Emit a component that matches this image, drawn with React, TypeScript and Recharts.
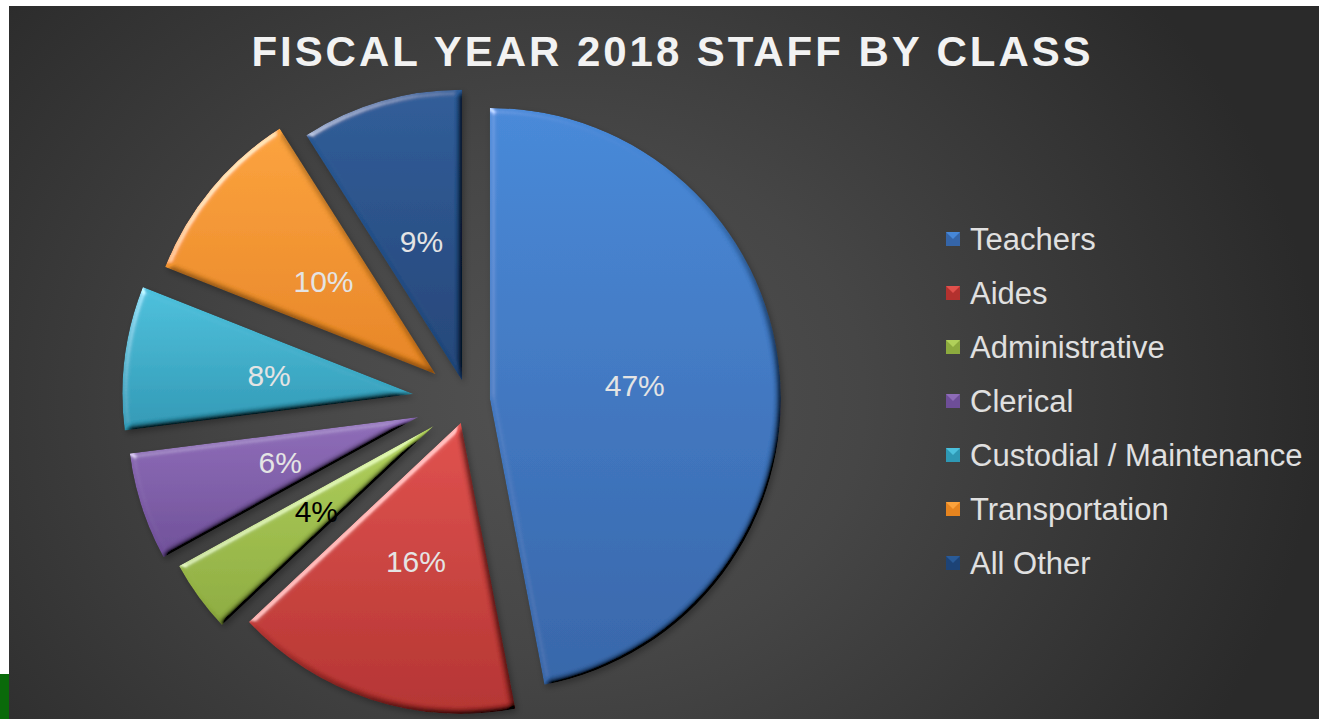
import { Cell, Legend, Pie, PieChart } from "recharts"

const categories = [
  "Teachers",
  "Aides",
  "Administrative",
  "Clerical",
  "Custodial / Maintenance",
  "Transportation",
  "All Other",
]

const shares = [47, 16, 4, 6, 8, 10, 9]

const data = categories.map((name, i) => ({ name, value: shares[i] }))

// styling per slice
const topColors = ["#4688d8", "#e0504c", "#b0d05a", "#8e6cb8", "#4cc0dc", "#fba23c", "#2a5b98"]
const bottomColors = ["#3565a8", "#b3312e", "#8caa3e", "#6e4e98", "#2e98b4", "#e6841f", "#1d4376"]
const labelColors = ["#e4e4e4", "#e4e4e4", "#000000", "#e4e4e4", "#e4e4e4", "#e4e4e4", "#e4e4e4"]
const explode = [22, 23, 42, 52, 55, 42, 21]

const RAD = Math.PI / 180
const total = shares.reduce((a, b) => a + b, 0)

function sliceOffset(i: number) {
  const before = shares.slice(0, i).reduce((a, b) => a + b, 0)
  const mid = 90 - (360 * (before + shares[i] / 2)) / total
  return [explode[i] * Math.cos(mid * RAD), -explode[i] * Math.sin(mid * RAD)]
}

const renderLabel = (props: any) => {
  const { cx, cy, midAngle, outerRadius, index, percent } = props
  const r = outerRadius * 0.5 + explode[index]
  const x = cx + r * Math.cos(-midAngle * RAD)
  const y = cy + r * Math.sin(-midAngle * RAD)
  return (
    <text
      x={x}
      y={y}
      fill={labelColors[index]}
      textAnchor="middle"
      dominantBaseline="central"
      fontSize={30}
      fontFamily="'Liberation Sans', Arial, sans-serif"
    >
      {`${Math.round(percent * 100)}%`}
    </text>
  )
}

// legend keeps the data order (the default payload gets sorted by name)
const renderLegend = () => (
  <div style={{ display: "flex", flexDirection: "column" }}>
    {categories.map((name, i) => (
      <div key={name} style={{ height: 54, display: "flex", alignItems: "center" }}>
        <svg width={14} height={14} style={{ marginRight: 10 }}>
          <rect x={0} y={0} width={14} height={14} fill={bottomColors[i]} />
          <polygon points="0,0 14,0 7,7" fill={topColors[i]} />
          <polygon points="1,1 13,1 7,6" fill={topColors[i]} opacity={0.7} />
        </svg>
        <span
          style={{
            color: "#e0e0e0",
            fontSize: 31,
            fontFamily: "'Liberation Sans', Arial, sans-serif",
            lineHeight: "31px",
          }}
        >
          {name}
        </span>
      </div>
    ))}
  </div>
)

export default function App() {
  return (
    <div style={{ position: "absolute", left: 0, top: 0, width: 1319, height: 719, background: "#ffffff", overflow: "hidden" }}>
      <svg width={0} height={0} style={{ position: "absolute" }}>
        <defs>
          {topColors.map((c, i) => (
            <linearGradient key={i} id={`grad${i}`} x1="0" y1="0" x2="0" y2="1">
              <stop offset="0%" stopColor={c} />
              <stop offset="100%" stopColor={bottomColors[i]} />
            </linearGradient>
          ))}
          <filter id="bevel" x="-10%" y="-10%" width="125%" height="125%">
            <feGaussianBlur in="SourceAlpha" stdDeviation="3" result="blur" />
            <feDiffuseLighting in="blur" surfaceScale="3" diffuseConstant="2" lightingColor="#ffffff" result="diff">
              <feDistantLight azimuth="225" elevation="30" />
            </feDiffuseLighting>
            <feComposite in="SourceGraphic" in2="diff" operator="arithmetic" k1="1" k2="0" k3="0" k4="0" result="shaded" />
            <feSpecularLighting in="blur" surfaceScale="3" specularConstant="0.9" specularExponent="30" lightingColor="#ffffff" result="spec">
              <feDistantLight azimuth="225" elevation="30" />
            </feSpecularLighting>
            <feComposite in="spec" in2="SourceAlpha" operator="in" result="specIn" />
            <feComposite in="shaded" in2="specIn" operator="arithmetic" k1="0" k2="1" k3="0.5" k4="0" result="lit" />
            <feComposite in="lit" in2="SourceAlpha" operator="in" result="litIn" />
            <feOffset in="SourceAlpha" dx="2" dy="3" result="off" />
            <feGaussianBlur in="off" stdDeviation="3" result="offBlur" />
            <feFlood floodColor="#000000" floodOpacity="0.3" />
            <feComposite in2="offBlur" operator="in" result="shadow" />
            <feMerge>
              <feMergeNode in="shadow" />
              <feMergeNode in="litIn" />
            </feMerge>
          </filter>
        </defs>
      </svg>
      <div
        style={{
          position: "absolute",
          left: 9,
          top: 6,
          width: 1310,
          height: 713,
          background: "radial-gradient(ellipse 760px 640px at 551px 394px, #525252 0%, #464646 40%, #2a2a2a 100%)",
        }}
      />
      <div style={{ position: "absolute", left: 0, top: 674, width: 9, height: 45, background: "#0a6a0a" }} />
      <div
        style={{
          position: "absolute",
          left: 0,
          top: 31,
          width: 1345,
          textAlign: "center",
          color: "#f2f2f2",
          fontFamily: "'Liberation Sans', Arial, sans-serif",
          fontWeight: "bold",
          fontSize: 42,
          lineHeight: "42px",
          letterSpacing: 2.95,
          whiteSpace: "nowrap",
        }}
      >
        FISCAL YEAR 2018 STAFF BY CLASS
      </div>
      <div style={{ position: "absolute", left: 0, top: 0 }}>
        <PieChart width={1319} height={719} margin={{ top: 0, right: 0, bottom: 0, left: 0 }}>
          <Pie
            data={data}
            dataKey="value"
            nameKey="name"
            cx={468}
            cy={401}
            outerRadius={291}
            startAngle={90}
            endAngle={-270}
            stroke="none"
            labelLine={false}
            label={renderLabel}
            isAnimationActive={false}
          >
            {data.map((entry, i) => {
              const [dx, dy] = sliceOffset(i)
              return (
                <Cell
                  key={entry.name}
                  fill={`url(#grad${i})`}
                  filter="url(#bevel)"
                  transform={`translate(${dx} ${dy})`}
                  style={{ transform: `translate(${dx}px, ${dy}px)` }}
                />
              )
            })}
          </Pie>
          <Legend
            layout="vertical"
            align="right"
            verticalAlign="middle"
            content={renderLegend}
            wrapperStyle={{ left: 946, top: 212, right: "auto", width: 370 }}
          />
        </PieChart>
      </div>
    </div>
  )
}
